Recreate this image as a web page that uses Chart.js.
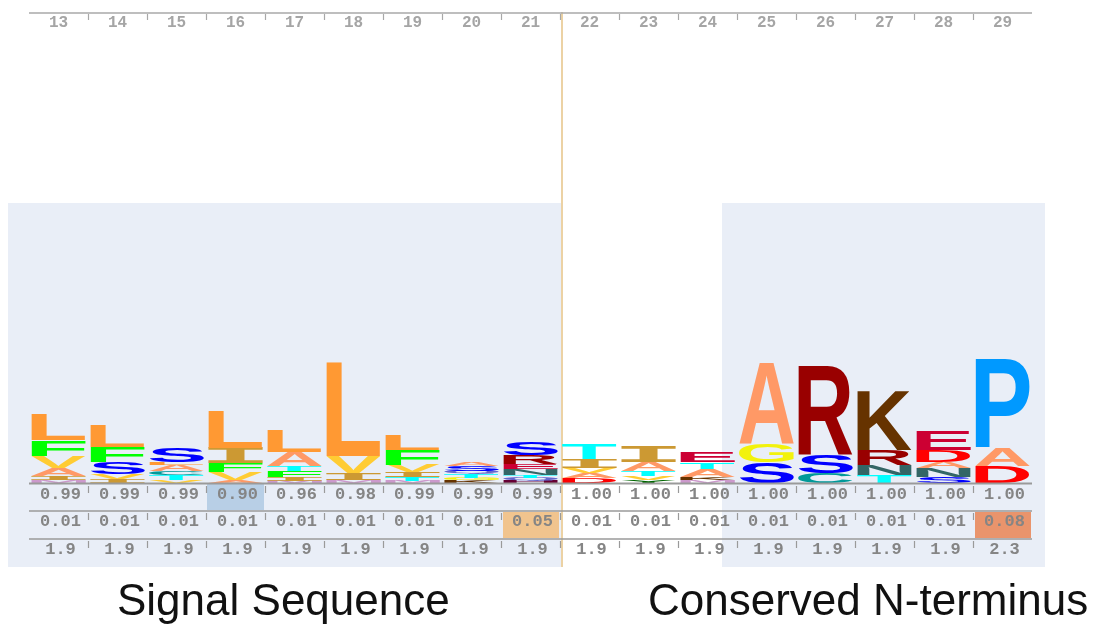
<!DOCTYPE html>
<html><head><meta charset="utf-8">
<script src="https://cdn.jsdelivr.net/npm/chart.js@4/dist/chart.umd.min.js"></script>
<style>
html,body{margin:0;padding:0;background:#fff;}
#wrap{position:relative;width:1099px;height:627px;overflow:hidden;}
canvas{position:absolute;left:0;top:0;}
.cap{position:absolute;font-family:"Liberation Sans",Arial,sans-serif;font-size:44px;line-height:44px;color:#111;white-space:nowrap;}
</style></head><body>
<div id="wrap">
<canvas id="c" width="1099" height="627"></canvas>
<div class="cap" style="left:117px;top:578px">Signal Sequence</div>
<div class="cap" style="left:648px;top:578px">Conserved N-terminus</div>
</div>
<script>
// ---- data ----
const positions = ['13','14','15','16','17','18','19','20','21','22','23','24','25','26','27','28','29'];
// residues per position, bottom -> top
const residues = ['MIAVFL','IVSFL','VTCALS','AVFIL','MIFTAL','MIVL','MTIVFL','KGTQSA','HQTNERS','DAVIT','YVTAI','MKATE','SGA','CSR','TNRK','SNADE','DAP'];
// letter heights (bits), bottom -> top
const bits = [
  [0.03,0.04,0.08,0.12,0.16,0.25],
  [0.04,0.05,0.12,0.15,0.21],
  [0.03,0.05,0.04,0.06,0.03,0.15],
  [0.03,0.08,0.09,0.15,0.37],
  [0.02,0.04,0.06,0.05,0.14,0.22],
  [0.03,0.07,0.17,0.93],
  [0.02,0.04,0.05,0.07,0.15,0.15],
  [0.03,0.02,0.04,0.03,0.05,0.04],
  [0.02,0.03,0.03,0.06,0.05,0.09,0.13],
  [0.05,0.05,0.05,0.09,0.15],
  [0.03,0.04,0.05,0.09,0.16],
  [0.03,0.03,0.08,0.07,0.10],
  [0.21,0.18,0.82],
  [0.10,0.18,0.88],
  [0.08,0.10,0.15,0.60],
  [0.06,0.09,0.06,0.12,0.19],
  [0.17,0.18,0.90]
];
const occupancy  = [0.99,0.99,0.99,0.90,0.96,0.98,0.99,0.99,0.99,1.00,1.00,1.00,1.00,1.00,1.00,1.00,1.00];
const insertProb = [0.01,0.01,0.01,0.01,0.01,0.01,0.01,0.01,0.05,0.01,0.01,0.01,0.01,0.01,0.01,0.01,0.08];
const insertLen  = [1.9,1.9,1.9,1.9,1.9,1.9,1.9,1.9,1.9,1.9,1.9,1.9,1.9,1.9,1.9,1.9,2.3];
const regionSignal = ['13','21'];
const regionConserved = ['25','29'];

// ---- styles ----
const aaColors = {A:'#FF9966',C:'#009999',D:'#FF0000',E:'#CC0033',F:'#00FF00',G:'#f2f20c',H:'#660033',I:'#CC9933',K:'#663300',L:'#FF9933',M:'#CC99CC',N:'#336666',P:'#0099FF',Q:'#6666CC',R:'#990000',S:'#0000FF',T:'#00FFFF',V:'#FFCC33',W:'#66CC66',Y:'#006600'};
const maxDepth = Math.max(...residues.map(r => r.length));
const datasets = [];
for (let k = 0; k < maxDepth; k++) {
  datasets.push({
    label: 'level ' + k,
    data: bits.map(b => b[k] || 0),
    letters: residues.map(r => r[k] || ''),
    backgroundColor: 'rgba(0,0,0,0)',
    borderWidth: 0,
    barPercentage: 0.93,
    categoryPercentage: 1.0
  });
}

function drawLetter(ctx, ch, color, x0, x1, yTop, yBot) {
  const h = yBot - yTop, w = x1 - x0;
  if (h <= 0.2 || !ch) return;
  ctx.save();
  ctx.font = ch === 'I'
    ? 'bold 100px "DejaVu Sans Mono", "Liberation Mono", monospace'
    : 'bold 100px "Liberation Sans", Arial, sans-serif';
  ctx.textAlign = 'left';
  ctx.textBaseline = 'alphabetic';
  const m = ctx.measureText(ch);
  const gl = m.actualBoundingBoxLeft, gr = m.actualBoundingBoxRight;
  const ga = m.actualBoundingBoxAscent, gd = m.actualBoundingBoxDescent;
  ctx.translate(x0, yTop);
  ctx.scale(w / (gl + gr), h / (ga + gd));
  ctx.fillStyle = color;
  ctx.fillText(ch, gl, ga);
  ctx.restore();
}

const logoPlugin = {
  id: 'logo',
  beforeDatasetsDraw(chart) {
    const ctx = chart.ctx, xs = chart.scales.x, ys = chart.scales.y;
    const colW = xs.getPixelForValue(1) - xs.getPixelForValue(0);
    const left = i => xs.getPixelForValue(i) - colW / 2;
    const right = i => xs.getPixelForValue(i) + colW / 2;
    const top = ys.getPixelForValue(2.8), bottom = ys.getPixelForValue(0) + 84;
    ctx.save();
    ctx.fillStyle = '#e9eef7';
    const a0 = positions.indexOf(regionSignal[0]), a1 = positions.indexOf(regionSignal[1]);
    ctx.fillRect(left(a0) - 21, top, right(a1) + 2 - (left(a0) - 21), bottom - top);
    const b0 = positions.indexOf(regionConserved[0]), b1 = positions.indexOf(regionConserved[1]);
    ctx.fillRect(left(b0) - 15, top, right(b1) + 13 - (left(b0) - 15), bottom - top);
    // divider
    ctx.strokeStyle = '#ecd2a4';
    ctx.lineWidth = 2;
    ctx.beginPath();
    ctx.moveTo(right(a1) + 2, 12);
    ctx.lineTo(right(a1) + 2, bottom);
    ctx.stroke();
    ctx.restore();
  },
  afterDatasetsDraw(chart) {
    const ctx = chart.ctx, xs = chart.scales.x, ys = chart.scales.y;
    // letters
    chart.data.datasets.forEach((ds, di) => {
      const meta = chart.getDatasetMeta(di);
      meta.data.forEach((bar, i) => {
        const ch = ds.letters[i];
        if (!ch || !ds.data[i]) return;
        const p = bar.getProps(['x','y','base','width'], true);
        drawLetter(ctx, ch, aaColors[ch], p.x - p.width / 2, p.x + p.width / 2, Math.min(p.y, p.base), Math.max(p.y, p.base));
      });
    });
    const n = positions.length;
    const colW = xs.getPixelForValue(1) - xs.getPixelForValue(0);
    const x0 = xs.getPixelForValue(0) - colW / 2, x1 = xs.getPixelForValue(n - 1) + colW / 2;
    const base = ys.getPixelForValue(0);
    const rowTops = [base + 1, base + 28, base + 56];
    ctx.save();
    // highlighted cells
    for (let i = 0; i < n; i++) {
      const cl = xs.getPixelForValue(i) - colW / 2;
      if (occupancy[i] < 0.95) {
        ctx.fillStyle = '#b8cfe6';
        ctx.fillRect(cl + 1, rowTops[0], colW - 2, 26);
      }
      if (insertProb[i] >= 0.04) {
        ctx.fillStyle = insertProb[i] >= 0.07 ? '#e9946c' : '#f1c48e';
        ctx.fillRect(cl + 2, rowTops[1] + 1, colW - 3, 26);
      }
    }
    // row lines
    ctx.strokeStyle = '#9a9a9a';
    ctx.lineWidth = 2;
    ctx.beginPath(); ctx.moveTo(x0, base + 0.5); ctx.lineTo(x1, base + 0.5); ctx.stroke();
    ctx.lineWidth = 1.5;
    [rowTops[1], rowTops[2]].forEach(y => { ctx.beginPath(); ctx.moveTo(x0, y); ctx.lineTo(x1, y); ctx.stroke(); });
    // ticks in rows
    ctx.lineWidth = 1.2;
    for (let i = 1; i < n; i++) {
      const bx = Math.round(xs.getPixelForValue(i) - colW / 2) + 0.5;
      rowTops.forEach(t => { ctx.beginPath(); ctx.moveTo(bx, t + 2); ctx.lineTo(bx, t + 9); ctx.stroke(); });
    }
    // row text
    ctx.fillStyle = '#858585';
    ctx.font = 'bold 17px "Liberation Mono", "DejaVu Sans Mono", monospace';
    ctx.textAlign = 'center';
    ctx.textBaseline = 'middle';
    for (let i = 0; i < n; i++) {
      const cx = xs.getPixelForValue(i) + 2;
      ctx.fillText(occupancy[i].toFixed(2), cx, rowTops[0] + 11);
      ctx.fillText(insertProb[i].toFixed(2), cx, rowTops[1] + 11);
      ctx.fillText(insertLen[i].toFixed(1), cx, rowTops[2] + 11);
    }
    // top position axis
    ctx.strokeStyle = '#a8a8a8';
    ctx.lineWidth = 1.5;
    ctx.beginPath(); ctx.moveTo(x0, 13); ctx.lineTo(x1, 13); ctx.stroke();
    ctx.lineWidth = 1.2;
    for (let i = 1; i < n; i++) {
      const bx = Math.round(xs.getPixelForValue(i) - colW / 2) + 0.5;
      ctx.beginPath(); ctx.moveTo(bx, 14); ctx.lineTo(bx, 20); ctx.stroke();
    }
    ctx.fillStyle = '#a5a5a5';
    ctx.font = 'bold 16px "Liberation Mono", "DejaVu Sans Mono", monospace';
    for (let i = 0; i < n; i++) {
      ctx.fillText(positions[i], xs.getPixelForValue(i), 23);
    }
    ctx.restore();
  }
};

new Chart(document.getElementById('c'), {
  type: 'bar',
  data: { labels: positions, datasets },
  options: {
    responsive: false,
    animation: false,
    devicePixelRatio: 1,
    layout: { padding: { left: 29, right: 67, top: 33, bottom: 144 } },
    plugins: { legend: { display: false }, tooltip: { enabled: false }, title: { display: false } },
    scales: {
      x: { stacked: true, display: false, offset: true },
      y: { stacked: true, display: false, min: 0, max: 4.5 }
    }
  },
  plugins: [logoPlugin]
});
</script>
</body></html>
